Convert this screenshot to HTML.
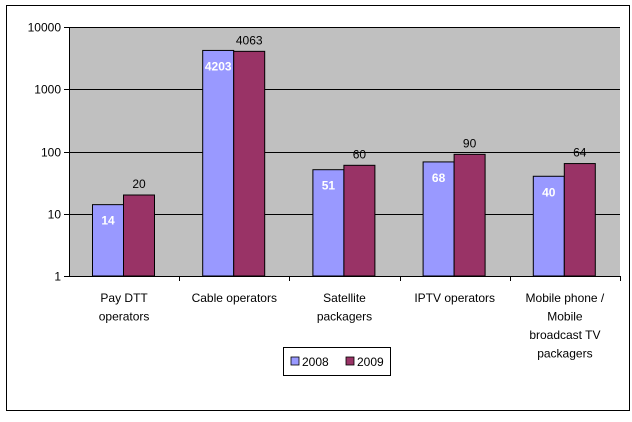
<!DOCTYPE html>
<html><head><meta charset="utf-8"><style>
body{margin:0;background:#fff;font-family:"Liberation Sans",Arial,sans-serif;}
svg text{font-family:"Liberation Sans",Arial,sans-serif;}
</style></head><body>
<svg id="chart" width="632" height="417" xmlns="http://www.w3.org/2000/svg">
<rect x="6.5" y="5.5" width="623" height="405" fill="#fff" stroke="#000"/>
<rect x="69" y="27" width="551" height="249" fill="#c0c0c0"/>
<g id="grid"></g><g id="bars"></g><g id="axes"></g>
<g>
<rect x="283.5" y="347.5" width="107" height="28" fill="#fff" stroke="#000"/>
<rect x="291" y="357" width="8" height="8" fill="#9999ff" stroke="#000" stroke-width="0.8"/>
<text x="302" y="366" font-size="12">2008</text>
<rect x="346" y="357" width="8" height="8" fill="#993366" stroke="#000" stroke-width="0.8"/>
<text x="357" y="366" font-size="12">2009</text>
</g>
</svg>
<script>
const categories=[["Pay DTT","operators"],["Cable operators"],["Satellite","packagers"],["IPTV operators"],["Mobile phone /","Mobile","broadcast TV","packagers"]];
const values2008=[14,4203,51,68,40];
const values2009=[20,4063,60,90,64];
const tickLabels=["1","10","100","1000","10000"];
const NS="http://www.w3.org/2000/svg";
const X0=69,X1=620,Y0=276,Y1=27;
const gw=(X1-X0)/categories.length;
function y(v){return Y0-(Math.log10(v)/4)*(Y0-Y1);}
function mk(tag,attrs,parent,txt){const e=document.createElementNS(NS,tag);for(const k in attrs)e.setAttribute(k,attrs[k]);if(txt!=null)e.textContent=txt;parent.appendChild(e);return e;}
const grid=document.getElementById("grid"),bars=document.getElementById("bars"),axes=document.getElementById("axes");
tickLabels.forEach((t)=>{const yy=Math.round(y(+t))+0.5;
 if(+t>1){const l=mk("line",{x1:X0,x2:X1,y1:yy,y2:yy,stroke:"#000"},grid);
 
 }
 const tk=mk("line",{x1:X0-5,x2:X0,y1:yy,y2:yy,stroke:"#000"},axes);
 
 
 const tx=mk("text",{x:X0-8,y:yy+4,"font-size":12,"text-anchor":"end"},axes,t);
 
 
});
mk("line",{x1:X0+0.5,x2:X0+0.5,y1:Y1,y2:Y0,stroke:"#000"},axes);
mk("line",{x1:X0,x2:X1,y1:Y0+0.5,y2:Y0+0.5,stroke:"#000"},axes);
categories.forEach((c,i)=>{
 const gx=X0+i*gw;
 const tk=mk("line",{x1:Math.round(gx+gw)+0.5,x2:Math.round(gx+gw)+0.5,y1:Y0,y2:Y0+5,stroke:"#000"},axes);
 
 
 const bx=gx+23.5,bw=31;
 const y8=y(values2008[i]),y9=y(values2009[i]);
 const b1=mk("rect",{x:bx,y:y8,width:bw,height:Y0-y8,fill:"#9999ff",stroke:"#000","stroke-width":1},bars);
 
 
 const b2=mk("rect",{x:bx+bw,y:y9,width:bw,height:Y0-y9,fill:"#993366",stroke:"#000","stroke-width":1},bars);
 
 
 const l1=mk("text",{x:bx+bw/2,y:y8+20,"font-size":12,"font-weight":"bold",fill:"#fff","text-anchor":"middle"},bars,String(values2008[i]));
 
 
 const l2=mk("text",{x:bx+bw*1.5,y:y9-7,"font-size":12,"text-anchor":"middle"},bars,String(values2009[i]));
 
 
 c.forEach((line,j)=>{const t=mk("text",{x:gx+gw/2,y:302+j*18.5,"font-size":12,"text-anchor":"middle"},axes,line);
  
  });
});
</script>
</body></html>
